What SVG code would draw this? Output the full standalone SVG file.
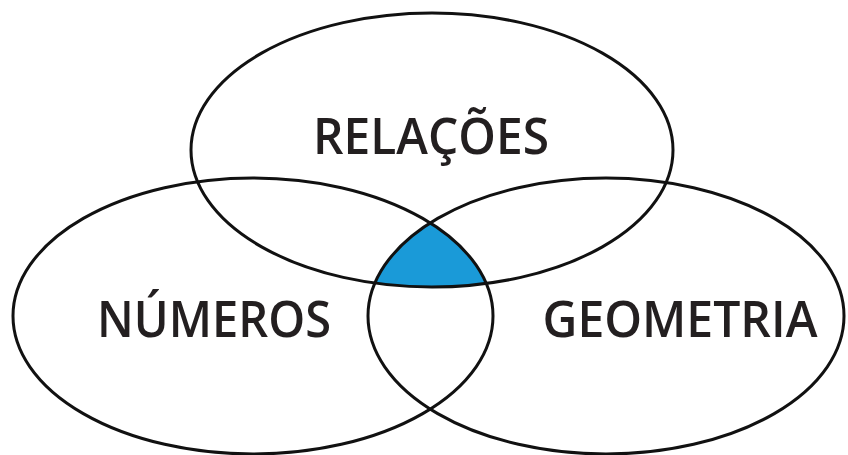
<svg xmlns="http://www.w3.org/2000/svg" width="848" height="455" viewBox="0 0 848 455">
<style>
.c{fill:none;stroke:#111;stroke-width:3}
.t{font-family:"Open Sans","Liberation Sans",sans-serif;font-weight:600;font-size:50px;fill:#231f20;text-anchor:middle}
</style>
<defs>
<clipPath id="cl"><ellipse cx="253" cy="316" rx="240" ry="138"/></clipPath>
<clipPath id="cr"><ellipse cx="606" cy="316" rx="238" ry="138"/></clipPath>
</defs>
<rect width="848" height="455" fill="#fff"/>
<g clip-path="url(#cl)"><g clip-path="url(#cr)"><ellipse cx="432" cy="150" rx="241" ry="137" fill="#1a9ad8"/></g></g>
<g id="relacoes"><ellipse class="c" cx="432" cy="150" rx="241" ry="137"/><text class="t" x="431" y="154" textLength="236" lengthAdjust="spacingAndGlyphs">RELAÇÕES</text></g>
<g id="numeros"><ellipse class="c" cx="253" cy="316" rx="240" ry="138"/><text class="t" x="214" y="337" textLength="234" lengthAdjust="spacingAndGlyphs">NÚMEROS</text></g>
<g id="geometria"><ellipse class="c" cx="606" cy="316" rx="238" ry="138"/><text class="t" x="680" y="337" textLength="275" lengthAdjust="spacingAndGlyphs">GEOMETRIA</text></g>
<g id="connectors"/>
</svg>
